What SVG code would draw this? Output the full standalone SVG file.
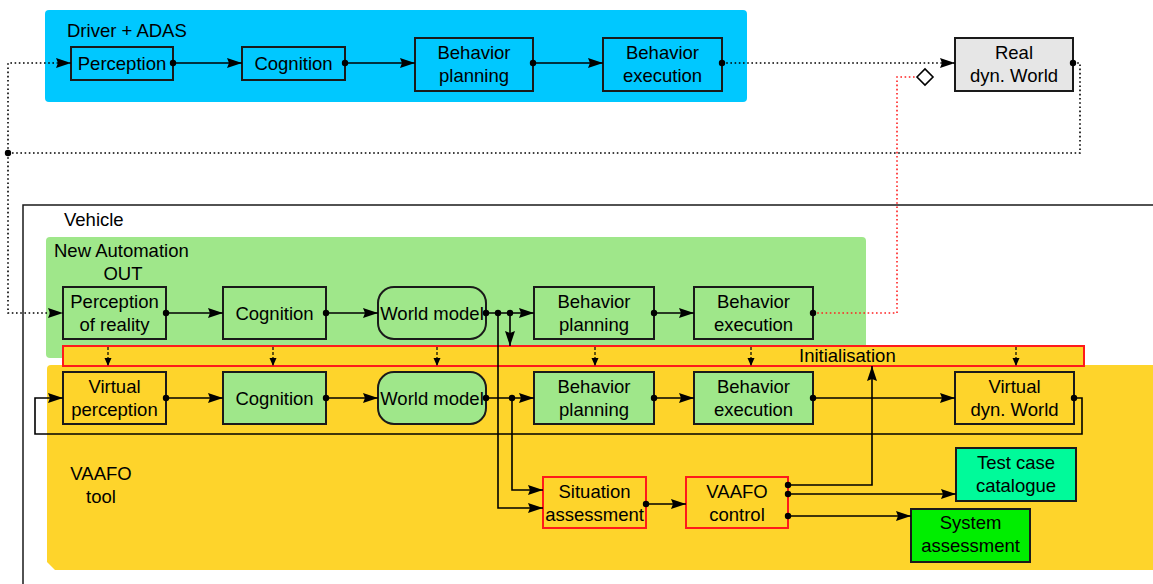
<svg xmlns="http://www.w3.org/2000/svg" width="1153" height="584" viewBox="0 0 1153 584">
<style>
text{font-family:"Liberation Sans",Arial,sans-serif;font-size:18.5px;fill:#000}
.n{text-anchor:middle}
.box{stroke:#1a1a1a;stroke-width:2}
.rbox{stroke:#ff1a1a;stroke-width:2}
.g{fill:#9fe78a}
.y{fill:#fed42b}
.c{fill:none;stroke:#000;stroke-width:1.6}
.dot{fill:none;stroke:#000;stroke-width:1.6;stroke-dasharray:1.6 2.6}
.rdot{fill:none;stroke:#ff2020;stroke-width:1.6;stroke-dasharray:1.6 2.6}
.dash{fill:none;stroke:#000;stroke-width:1.2;stroke-dasharray:3 2}
</style>
<defs>
<marker id="a" markerUnits="userSpaceOnUse" markerWidth="16" markerHeight="11" refX="15" refY="5" orient="auto"><path d="M0,0 L15,5 L0,10 L2,5 z" fill="#000"/></marker>
<marker id="sa" markerUnits="userSpaceOnUse" markerWidth="9" markerHeight="8" refX="8" refY="3.5" orient="auto"><path d="M0,0 L8,3.5 L0,7 z" fill="#000"/></marker>
<marker id="d" markerUnits="userSpaceOnUse" markerWidth="8" markerHeight="8" refX="4" refY="4"><circle cx="4" cy="4" r="3.2" fill="#000"/></marker>
</defs>

<g id="containers">
<rect id="driver-adas" x="45" y="10" width="702" height="92" rx="4" fill="#00c8ff"/>
<text x="67" y="36.5">Driver + ADAS</text>
<path d="M23,584 V205 H1153" fill="none" stroke="#1a1a1a" stroke-width="1.5"/>
<text x="64" y="225.5">Vehicle</text>
<rect id="new-automation" x="46" y="237" width="820" height="121" rx="4" fill="#9fe78a"/>
<text x="54" y="256.5">New Automation</text>
<text class="n" x="123" y="279.5">OUT</text>
<path id="vaafo-tool" d="M51,365 H1153 V570 H55 L47,562 V369 Q47,365 51,365 z" fill="#fed42b"/>
<text class="n" x="101" y="479.5">VAAFO</text>
<text class="n" x="101" y="502.5">tool</text>
</g>

<g id="initialisation">
<rect x="63" y="346" width="1021" height="20" class="rbox y"/>
<text x="799" y="361.5">Initialisation</text>
</g>

<g id="perception"><rect x="71" y="47" width="102" height="33" class="box" fill="none"/><text class="n" x="122" y="69.5">Perception</text></g>
<g id="cognition-top"><rect x="242" y="47" width="103" height="33" class="box" fill="none"/><text class="n" x="293.5" y="69.5">Cognition</text></g>
<g id="behavior-planning-top"><rect x="415" y="38" width="118" height="53" class="box" fill="none"/><text class="n" x="474" y="58.5">Behavior</text><text class="n" x="474" y="81.5">planning</text></g>
<g id="behavior-execution-top"><rect x="603" y="38" width="119" height="53" class="box" fill="none"/><text class="n" x="662.5" y="58.5">Behavior</text><text class="n" x="662.5" y="81.5">execution</text></g>
<g id="real-world"><rect x="955" y="38" width="118" height="53" class="box" fill="#e6e6e6"/><text class="n" x="1014" y="58.5">Real</text><text class="n" x="1014" y="81.5">dyn. World</text></g>

<g id="perception-of-reality"><rect x="63" y="287" width="103" height="52" class="box g"/><text class="n" x="114.5" y="308">Perception</text><text class="n" x="114.5" y="331">of reality</text></g>
<g id="cognition-out"><rect x="223" y="287" width="103" height="52" class="box g"/><text class="n" x="274.5" y="319.5">Cognition</text></g>
<g id="world-model-out"><rect x="378" y="287" width="108" height="52" rx="16" class="box g"/><text class="n" x="432" y="319.5">World model</text></g>
<g id="behavior-planning-out"><rect x="534" y="287" width="120" height="52" class="box g"/><text class="n" x="594" y="308">Behavior</text><text class="n" x="594" y="331">planning</text></g>
<g id="behavior-execution-out"><rect x="694" y="287" width="119" height="52" class="box g"/><text class="n" x="753.5" y="308">Behavior</text><text class="n" x="753.5" y="331">execution</text></g>

<g id="virtual-perception"><rect x="63" y="372" width="103" height="52" class="box y"/><text class="n" x="114.5" y="392.5">Virtual</text><text class="n" x="114.5" y="415.5">perception</text></g>
<g id="cognition-v"><rect x="223" y="372" width="103" height="52" class="box g"/><text class="n" x="274.5" y="404.5">Cognition</text></g>
<g id="world-model-v"><rect x="378" y="372" width="108" height="52" rx="16" class="box g"/><text class="n" x="432" y="404.5">World model</text></g>
<g id="behavior-planning-v"><rect x="534" y="372" width="120" height="52" class="box g"/><text class="n" x="594" y="392.5">Behavior</text><text class="n" x="594" y="415.5">planning</text></g>
<g id="behavior-execution-v"><rect x="694" y="372" width="119" height="52" class="box g"/><text class="n" x="753.5" y="392.5">Behavior</text><text class="n" x="753.5" y="415.5">execution</text></g>
<g id="virtual-world"><rect x="955" y="372" width="119" height="52" class="box y"/><text class="n" x="1014.5" y="392.5">Virtual</text><text class="n" x="1014.5" y="415.5">dyn. World</text></g>

<g id="situation-assessment"><rect x="543" y="477" width="103" height="51" class="rbox y"/><text class="n" x="594.5" y="497.5">Situation</text><text class="n" x="594.5" y="520.5">assessment</text></g>
<g id="vaafo-control"><rect x="686" y="477" width="102" height="51" class="rbox y"/><text class="n" x="737" y="497.5">VAAFO</text><text class="n" x="737" y="520.5">control</text></g>
<g id="test-case-catalogue"><rect x="956" y="448" width="120" height="53" class="box" fill="#00fa9a"/><text class="n" x="1016" y="468.5">Test case</text><text class="n" x="1016" y="491.5">catalogue</text></g>
<g id="system-assessment"><rect x="911" y="509" width="119" height="53" class="box" fill="#00ee00"/><text class="n" x="970.5" y="528.5">System</text><text class="n" x="970.5" y="551.5">assessment</text></g>

<g id="connectors">
<path class="c" d="M173,63 H242" marker-start="url(#d)" marker-end="url(#a)"/>
<path class="c" d="M345,63 H415" marker-start="url(#d)" marker-end="url(#a)"/>
<path class="c" d="M533,63 H603" marker-start="url(#d)" marker-end="url(#a)"/>
<path class="dot" d="M722,63 H955" marker-start="url(#d)" marker-end="url(#a)"/>
<path class="dot" d="M1073,63 H1080 V153 H8" marker-start="url(#d)" marker-end="url(#d)"/>
<path class="dot" d="M8,153 V63 H71" marker-end="url(#a)"/>
<path class="dot" d="M8,153 V313 H63" marker-end="url(#a)"/>
<path class="rdot" d="M813,313 H897 V77 H917"/>
<circle cx="813" cy="313" r="3.2"/>
<path d="M917,77 L925,69 L933,77 L925,85 z" fill="#fff" stroke="#000" stroke-width="1.6"/>

<path class="c" d="M166,313 H223" marker-start="url(#d)" marker-end="url(#a)"/>
<path class="c" d="M326,313 H378" marker-start="url(#d)" marker-end="url(#a)"/>
<path class="c" d="M486,313 H534" marker-start="url(#d)" marker-end="url(#a)"/>
<circle cx="498" cy="313" r="3.2"/><circle cx="510" cy="313" r="3.2"/>
<path class="c" d="M510,313 V346" marker-end="url(#a)"/>
<path class="c" d="M498,313 V508 H543" marker-end="url(#a)"/>
<path class="c" d="M654,313 H694" marker-start="url(#d)" marker-end="url(#a)"/>

<path class="c" d="M166,398 H223" marker-start="url(#d)" marker-end="url(#a)"/>
<path class="c" d="M326,398 H378" marker-start="url(#d)" marker-end="url(#a)"/>
<path class="c" d="M486,398 H534" marker-start="url(#d)" marker-end="url(#a)"/>
<circle cx="512" cy="398" r="3.2"/>
<path class="c" d="M512,398 V490 H543" marker-end="url(#a)"/>
<path class="c" d="M654,398 H694" marker-start="url(#d)" marker-end="url(#a)"/>
<path class="c" d="M813,398 H955" marker-start="url(#d)" marker-end="url(#a)"/>
<path class="c" d="M1074,398 H1082 V434 H35 V398 H63" marker-start="url(#d)" marker-end="url(#a)"/>

<path class="c" d="M646,504 H686" marker-start="url(#d)" marker-end="url(#a)"/>
<path class="c" d="M788,485 H872 V366" marker-start="url(#d)" marker-end="url(#a)"/>
<path class="c" d="M788,494 H956" marker-start="url(#d)" marker-end="url(#a)"/>
<path class="c" d="M788,516 H911" marker-start="url(#d)" marker-end="url(#a)"/>

<path class="dash" d="M108,347 V366" marker-end="url(#sa)"/>
<path class="dash" d="M273,347 V366" marker-end="url(#sa)"/>
<path class="dash" d="M437,347 V366" marker-end="url(#sa)"/>
<path class="dash" d="M595,347 V366" marker-end="url(#sa)"/>
<path class="dash" d="M751,347 V366" marker-end="url(#sa)"/>
<path class="dash" d="M1016,347 V366" marker-end="url(#sa)"/>
</g>
</svg>
